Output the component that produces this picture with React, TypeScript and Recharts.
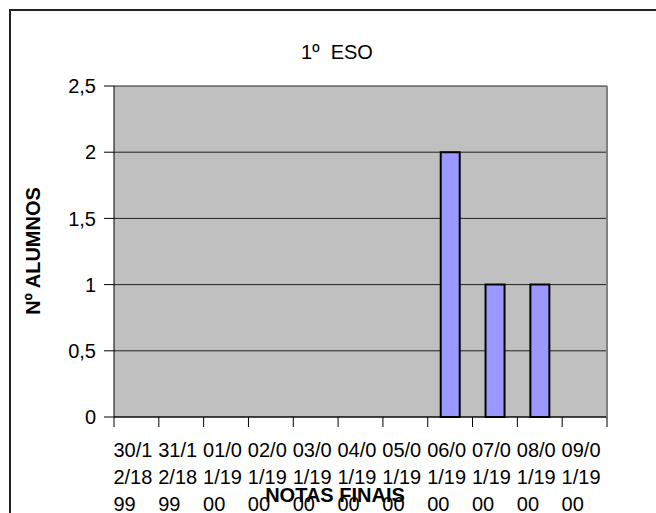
import { BarChart, Bar, XAxis, YAxis, CartesianGrid } from 'recharts'

// categorías tal como las guardó Excel (fechas en vez de notas)
const categories = [
  '30/12/1899', '31/12/1899', '01/01/1900', '02/01/1900', '03/01/1900',
  '04/01/1900', '05/01/1900', '06/01/1900', '07/01/1900', '08/01/1900', '09/01/1900',
]
const alumnos = [0, 0, 0, 0, 0, 0, 0, 2, 1, 1, 0]
const yTicks = [0, 0.5, 1, 1.5, 2, 2.5]

const data = categories.map((c, i) => ({ nota: c, alumnos: alumnos[i] }))

const FONT = '"Liberation Sans", Arial, sans-serif'
const W = 656
const H = 513
const PLOT_L = 114
const PLOT_R = 607
const PLOT_T = 86
const PLOT_B = 417
const STEP = (PLOT_R - PLOT_L) / categories.length

function chunks(s: string) {
  const out: string[] = []
  for (let i = 0; i < s.length; i += 4) out.push(s.slice(i, i + 4))
  return out
}

function DateTick(props: any) {
  const { x, y, payload, index } = props
  const lines = chunks(String(payload.value))
  const last = index === categories.length - 1
  return (
    <g>
      <line x1={x - STEP / 2} y1={y} x2={x - STEP / 2} y2={y + 10} stroke="#000" />
      {last && <line x1={x + STEP / 2} y1={y} x2={x + STEP / 2} y2={y + 10} stroke="#000" />}
      {lines.map((l, i) => (
        <text key={i} x={x - 23} y={y + 40 + i * 27} fontSize={20} fontFamily={FONT} fill="#000" textAnchor="start">
          {l}
        </text>
      ))}
    </g>
  )
}

export default function App() {
  return (
    <div style={{ position: 'fixed', left: 0, top: 0, width: W, height: H, overflow: 'hidden', background: '#fff', fontFamily: FONT }}>
      {/* borde del área del gráfico, se sale por la derecha y abajo */}
      <div style={{ position: 'absolute', left: 9, top: 9, width: 800, height: 700, border: '2px solid #222' }} />
      <div style={{ position: 'absolute', left: 0, top: 0 }}>
        <BarChart
          width={W}
          height={H}
          data={data}
          margin={{ top: PLOT_T, right: W - PLOT_R, left: PLOT_L - 60, bottom: 0 }}
          barCategoryGap="29%"
        >
          <CartesianGrid fill="#C0C0C0" vertical={false} stroke="#222" strokeOpacity={1} />
          <XAxis
            dataKey="nota"
            height={H - PLOT_B}
            interval={0}
            tickLine={false}
            tickSize={0}
            tickMargin={0}
            axisLine={{ stroke: '#000' }}
            tick={<DateTick />}
          />
          <YAxis
            width={60}
            domain={[0, 2.5]}
            ticks={yTicks}
            tickSize={10}
            tickMargin={8}
            axisLine={{ stroke: '#000' }}
            tickLine={{ stroke: '#000' }}
            tick={{ fontSize: 20, fontFamily: FONT, fill: '#000' }}
            tickFormatter={(v: number) => String(v).replace('.', ',')}
          />
          <Bar dataKey="alumnos" fill="#9999FF" stroke="#000" strokeWidth={2} isAnimationActive={false} />
        </BarChart>
      </div>
      {/* borde derecho gris del área de trazado */}
      <div style={{ position: 'absolute', left: PLOT_R - 1, top: PLOT_T, width: 2, height: PLOT_B - PLOT_T, background: '#808080' }} />
      <div style={{ position: 'absolute', left: 237, top: 39, width: 200, textAlign: 'center', fontSize: 20, lineHeight: '26px', whiteSpace: 'pre' }}>
        {'1º  ESO'}
      </div>
      <div style={{ position: 'absolute', left: 235, top: 482, width: 200, textAlign: 'center', fontSize: 20, fontWeight: 'bold', lineHeight: '26px' }}>
        NOTAS FINAIS
      </div>
      <div
        style={{
          position: 'absolute', left: 33 - 100, top: 251 - 13, width: 200, textAlign: 'center',
          fontSize: 20, fontWeight: 'bold', lineHeight: '26px', transform: 'rotate(-90deg)',
        }}
      >
        Nº ALUMNOS
      </div>
    </div>
  )
}
